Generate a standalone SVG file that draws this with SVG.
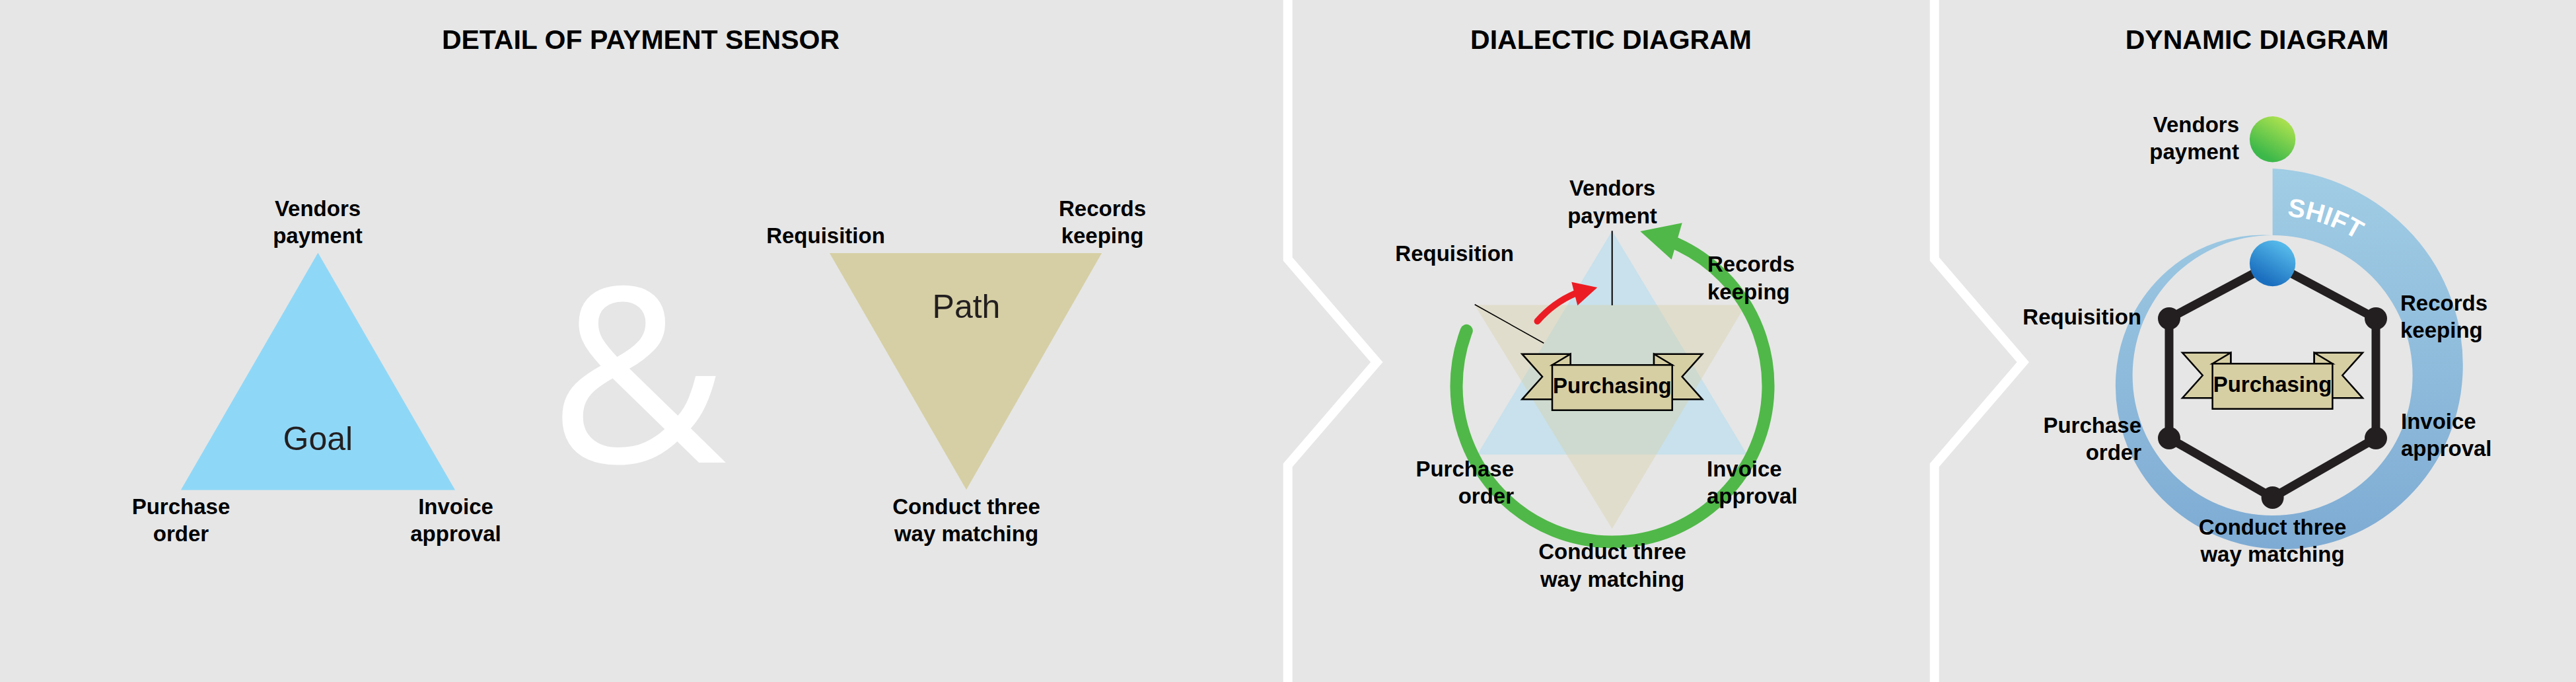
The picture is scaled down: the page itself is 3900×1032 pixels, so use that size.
<svg xmlns="http://www.w3.org/2000/svg" width="3900" height="1032" viewBox="0 0 3900 1032">
<defs>
<style>
.lbl{font-family:"Liberation Sans",Arial,sans-serif;font-weight:bold;font-size:33px;fill:#000}
.ttl{font-family:"Liberation Sans",Arial,sans-serif;font-weight:bold;font-size:41px;fill:#000;text-anchor:middle}
.big{font-family:"Liberation Sans",Arial,sans-serif;font-size:50px;fill:#231f20;text-anchor:middle}
.mid{text-anchor:middle}
.end{text-anchor:end}
.sep{fill:none;stroke:#fff;stroke-width:14;stroke-linejoin:miter;stroke-miterlimit:10}
.rib{fill:#d7cfa4;stroke:#000;stroke-width:2.5;stroke-linejoin:miter}
.hexl{fill:none;stroke:#231f20;stroke-width:13;stroke-linejoin:round}
.dot{fill:#231f20}
.thin{stroke:#000;fill:none}
</style>
<linearGradient id="ringGrad" gradientUnits="userSpaceOnUse" x1="0" y1="255" x2="0" y2="831">
<stop offset="0" stop-color="#a1cde5"/>
<stop offset="1" stop-color="#7eabd3"/>
</linearGradient>
<linearGradient id="greenGrad" x1="0.75" y1="0.1" x2="0.3" y2="0.85">
<stop offset="0" stop-color="#a8e04f"/>
<stop offset="1" stop-color="#3cb84a"/>
</linearGradient>
<linearGradient id="blueGrad" x1="0.75" y1="0.1" x2="0.3" y2="0.85">
<stop offset="0" stop-color="#55b9ea"/>
<stop offset="1" stop-color="#1b6fbf"/>
</linearGradient>
<g id="banner">
<polygon class="rib" points="-136.5,-50.8 -63.2,-50.8 -63.2,17.8 -136.5,17.8 -105.8,-16.5"/>
<polygon class="rib" points="136.5,-50.8 63.2,-50.8 63.2,17.8 136.5,17.8 105.8,-16.5"/>
<polygon class="rib" points="-90.85,-34.2 -63.2,-50.8 -63.2,-34.2"/>
<polygon class="rib" points="90.85,-34.2 63.2,-50.8 63.2,-34.2"/>
<rect class="rib" x="-90.85" y="-34.2" width="181.7" height="68.4"/>
</g>
<path id="shiftArc" d="M3440.6,326 A242,242 0 0 1 3611.7,396.9"/>
</defs>

<rect x="0" y="0" width="3900" height="1032" fill="#e6e6e6"/>

<g id="separators">
<polyline class="sep" points="1949.7,0 1949.7,392 2084.3,548 1949.7,704 1949.7,1032"/>
<polyline class="sep" points="2928.7,0 2928.7,392 3062.8,548 2928.7,704 2928.7,1032"/>
</g>

<!-- Panel 1: Detail of payment sensor -->
<g id="panel-detail">
<text class="ttl" x="970" y="74">DETAIL OF PAYMENT SENSOR</text>
<g id="goal-triangle">
<polygon points="481.4,382.6 689,741.6 273.8,741.6" fill="#8fd7f7"/>
<text class="big" x="481.4" y="681">Goal</text>
</g>
<g id="d-vendors"><text class="lbl mid" x="481" y="326.5"><tspan x="481">Vendors</tspan><tspan x="481" dy="41">payment</tspan></text></g>
<g id="d-purchase"><text class="lbl mid" x="274" y="778"><tspan x="274">Purchase</tspan><tspan x="274" dy="41">order</tspan></text></g>
<g id="d-invoice"><text class="lbl mid" x="690" y="778"><tspan x="690">Invoice</tspan><tspan x="690" dy="41">approval</tspan></text></g>
<g id="ampersand"><text x="966" y="700" font-family="'Open Sans','Liberation Sans',sans-serif" font-size="370" fill="#fff" text-anchor="middle">&amp;</text></g>
<g id="path-triangle">
<polygon points="1256,383 1668,383 1463,741" fill="#d6cfa5"/>
<text class="big" x="1463" y="480.6">Path</text>
</g>
<g id="d-requisition"><text class="lbl mid" x="1250" y="368">Requisition</text></g>
<g id="d-records"><text class="lbl mid" x="1669" y="326.5"><tspan x="1669">Records</tspan><tspan x="1669" dy="41">keeping</tspan></text></g>
<g id="d-conduct"><text class="lbl mid" x="1463" y="778"><tspan x="1463">Conduct three</tspan><tspan x="1463" dy="41">way matching</tspan></text></g>
</g>

<!-- Panel 2: Dialectic diagram -->
<g id="panel-dialectic">
<text class="ttl" x="2439" y="74">DIALECTIC DIAGRAM</text>
<g id="dl-triangles">
<polygon points="2440.7,349.3 2645,687.7 2236.7,687.7" fill="#8fd7f7" fill-opacity="0.35"/>
<polygon points="2232.7,461.5 2642.7,461.5 2440.7,800" fill="#d6cfa5" fill-opacity="0.4"/>
</g>
<g id="dl-connectors">
<line class="thin" x1="2440.7" y1="349.3" x2="2440.7" y2="462" stroke-width="2"/>
<line class="thin" x1="2232.7" y1="460.7" x2="2337.3" y2="519.3" stroke-width="1.6"/>
<path d="M2220.3,500.4 A236,236 0 1 0 2537.5,368.6" fill="none" stroke="#50b848" stroke-width="19" stroke-linecap="round"/>
<polygon points="2483.3,350 2546.7,337.3 2530.7,392.7" fill="#50b848"/>
<path d="M2327.5,486 Q2352,458 2385,444" fill="none" stroke="#ec1c24" stroke-width="10" stroke-linecap="round"/>
<polygon points="2418.3,435 2379.3,426.7 2388.3,462.3" fill="#ec1c24"/>
</g>
<g id="dl-purchasing">
<use href="#banner" transform="translate(2440.85,586.5)"/>
<text class="lbl mid" x="2440.85" y="595">Purchasing</text>
</g>
<g id="dl-vendors"><text class="lbl mid" x="2441" y="296"><tspan x="2441">Vendors</tspan><tspan x="2441" dy="41.5">payment</tspan></text></g>
<g id="dl-requisition"><text class="lbl end" x="2292" y="395">Requisition</text></g>
<g id="dl-records"><text class="lbl" x="2585" y="411"><tspan x="2585">Records</tspan><tspan x="2585" dy="41.5">keeping</tspan></text></g>
<g id="dl-purchase"><text class="lbl end" x="2292" y="720.5"><tspan x="2292">Purchase</tspan><tspan x="2292" dy="41.5">order</tspan></text></g>
<g id="dl-invoice"><text class="lbl" x="2584" y="720.5"><tspan x="2584">Invoice</tspan><tspan x="2584" dy="41.5">approval</tspan></text></g>
<g id="dl-conduct"><text class="lbl mid" x="2441" y="846"><tspan x="2441">Conduct three</tspan><tspan x="2441" dy="42">way matching</tspan></text></g>
</g>

<!-- Panel 3: Dynamic diagram -->
<g id="panel-dynamic">
<text class="ttl" x="3417" y="74">DYNAMIC DIAGRAM</text>
<g id="dy-shift">
<path fill="url(#ringGrad)" d="M3440.6,356 A218.3,218.3 0 0 0 3281.8,409.2 A230.9,230.9 0 0 0 3203.35,568 A243.6,243.6 0 0 0 3263.9,744.7 A256.2,256.2 0 0 0 3440.6,830.5 A268.8,268.8 0 0 0 3635.1,762.5 A281.4,281.4 0 0 0 3728.35,568 A294.1,294.1 0 0 0 3653,355.6 A306.7,306.7 0 0 0 3440.6,255 L3440.6,356 A212,212 0 0 1 3652.6,568 A212,212 0 0 1 3440.6,780 A212,212 0 0 1 3228.6,568 A212,212 0 0 1 3440.6,356 Z"/>
<text font-family="'Liberation Sans',Arial,sans-serif" font-weight="bold" font-size="39" fill="#fff"><textPath href="#shiftArc" startOffset="22">SHIFT</textPath></text>
</g>
<g id="dy-hexagon">
<polygon class="hexl" points="3440.6,398.5 3597,482 3597,663 3440.6,753 3284,663 3284,482"/>
<circle class="dot" cx="3597" cy="482" r="17"/>
<circle class="dot" cx="3597" cy="663" r="17"/>
<circle class="dot" cx="3440.6" cy="753" r="17"/>
<circle class="dot" cx="3284" cy="663" r="17"/>
<circle class="dot" cx="3284" cy="482" r="17"/>
</g>
<g id="dy-vendors-ball"><circle cx="3440.6" cy="210.7" r="34.7" fill="url(#greenGrad)"/></g>
<g id="dy-current-ball"><circle cx="3440.6" cy="398.5" r="34.7" fill="url(#blueGrad)"/></g>
<g id="dy-purchasing">
<use href="#banner" transform="translate(3440.5,584.5)"/>
<text class="lbl mid" x="3440.5" y="593">Purchasing</text>
</g>
<g id="dy-vendors"><text class="lbl end" x="3390" y="200"><tspan x="3390">Vendors</tspan><tspan x="3390" dy="41">payment</tspan></text></g>
<g id="dy-requisition"><text class="lbl end" x="3242" y="491">Requisition</text></g>
<g id="dy-records"><text class="lbl" x="3634" y="470"><tspan x="3634">Records</tspan><tspan x="3634" dy="41">keeping</tspan></text></g>
<g id="dy-purchase"><text class="lbl end" x="3242" y="654.5"><tspan x="3242">Purchase</tspan><tspan x="3242" dy="41.5">order</tspan></text></g>
<g id="dy-invoice"><text class="lbl" x="3635" y="649"><tspan x="3635">Invoice</tspan><tspan x="3635" dy="41">approval</tspan></text></g>
<g id="dy-conduct"><text class="lbl mid" x="3440.5" y="808.5"><tspan x="3440.5">Conduct three</tspan><tspan x="3440.5" dy="41.5">way matching</tspan></text></g>
</g>
</svg>
